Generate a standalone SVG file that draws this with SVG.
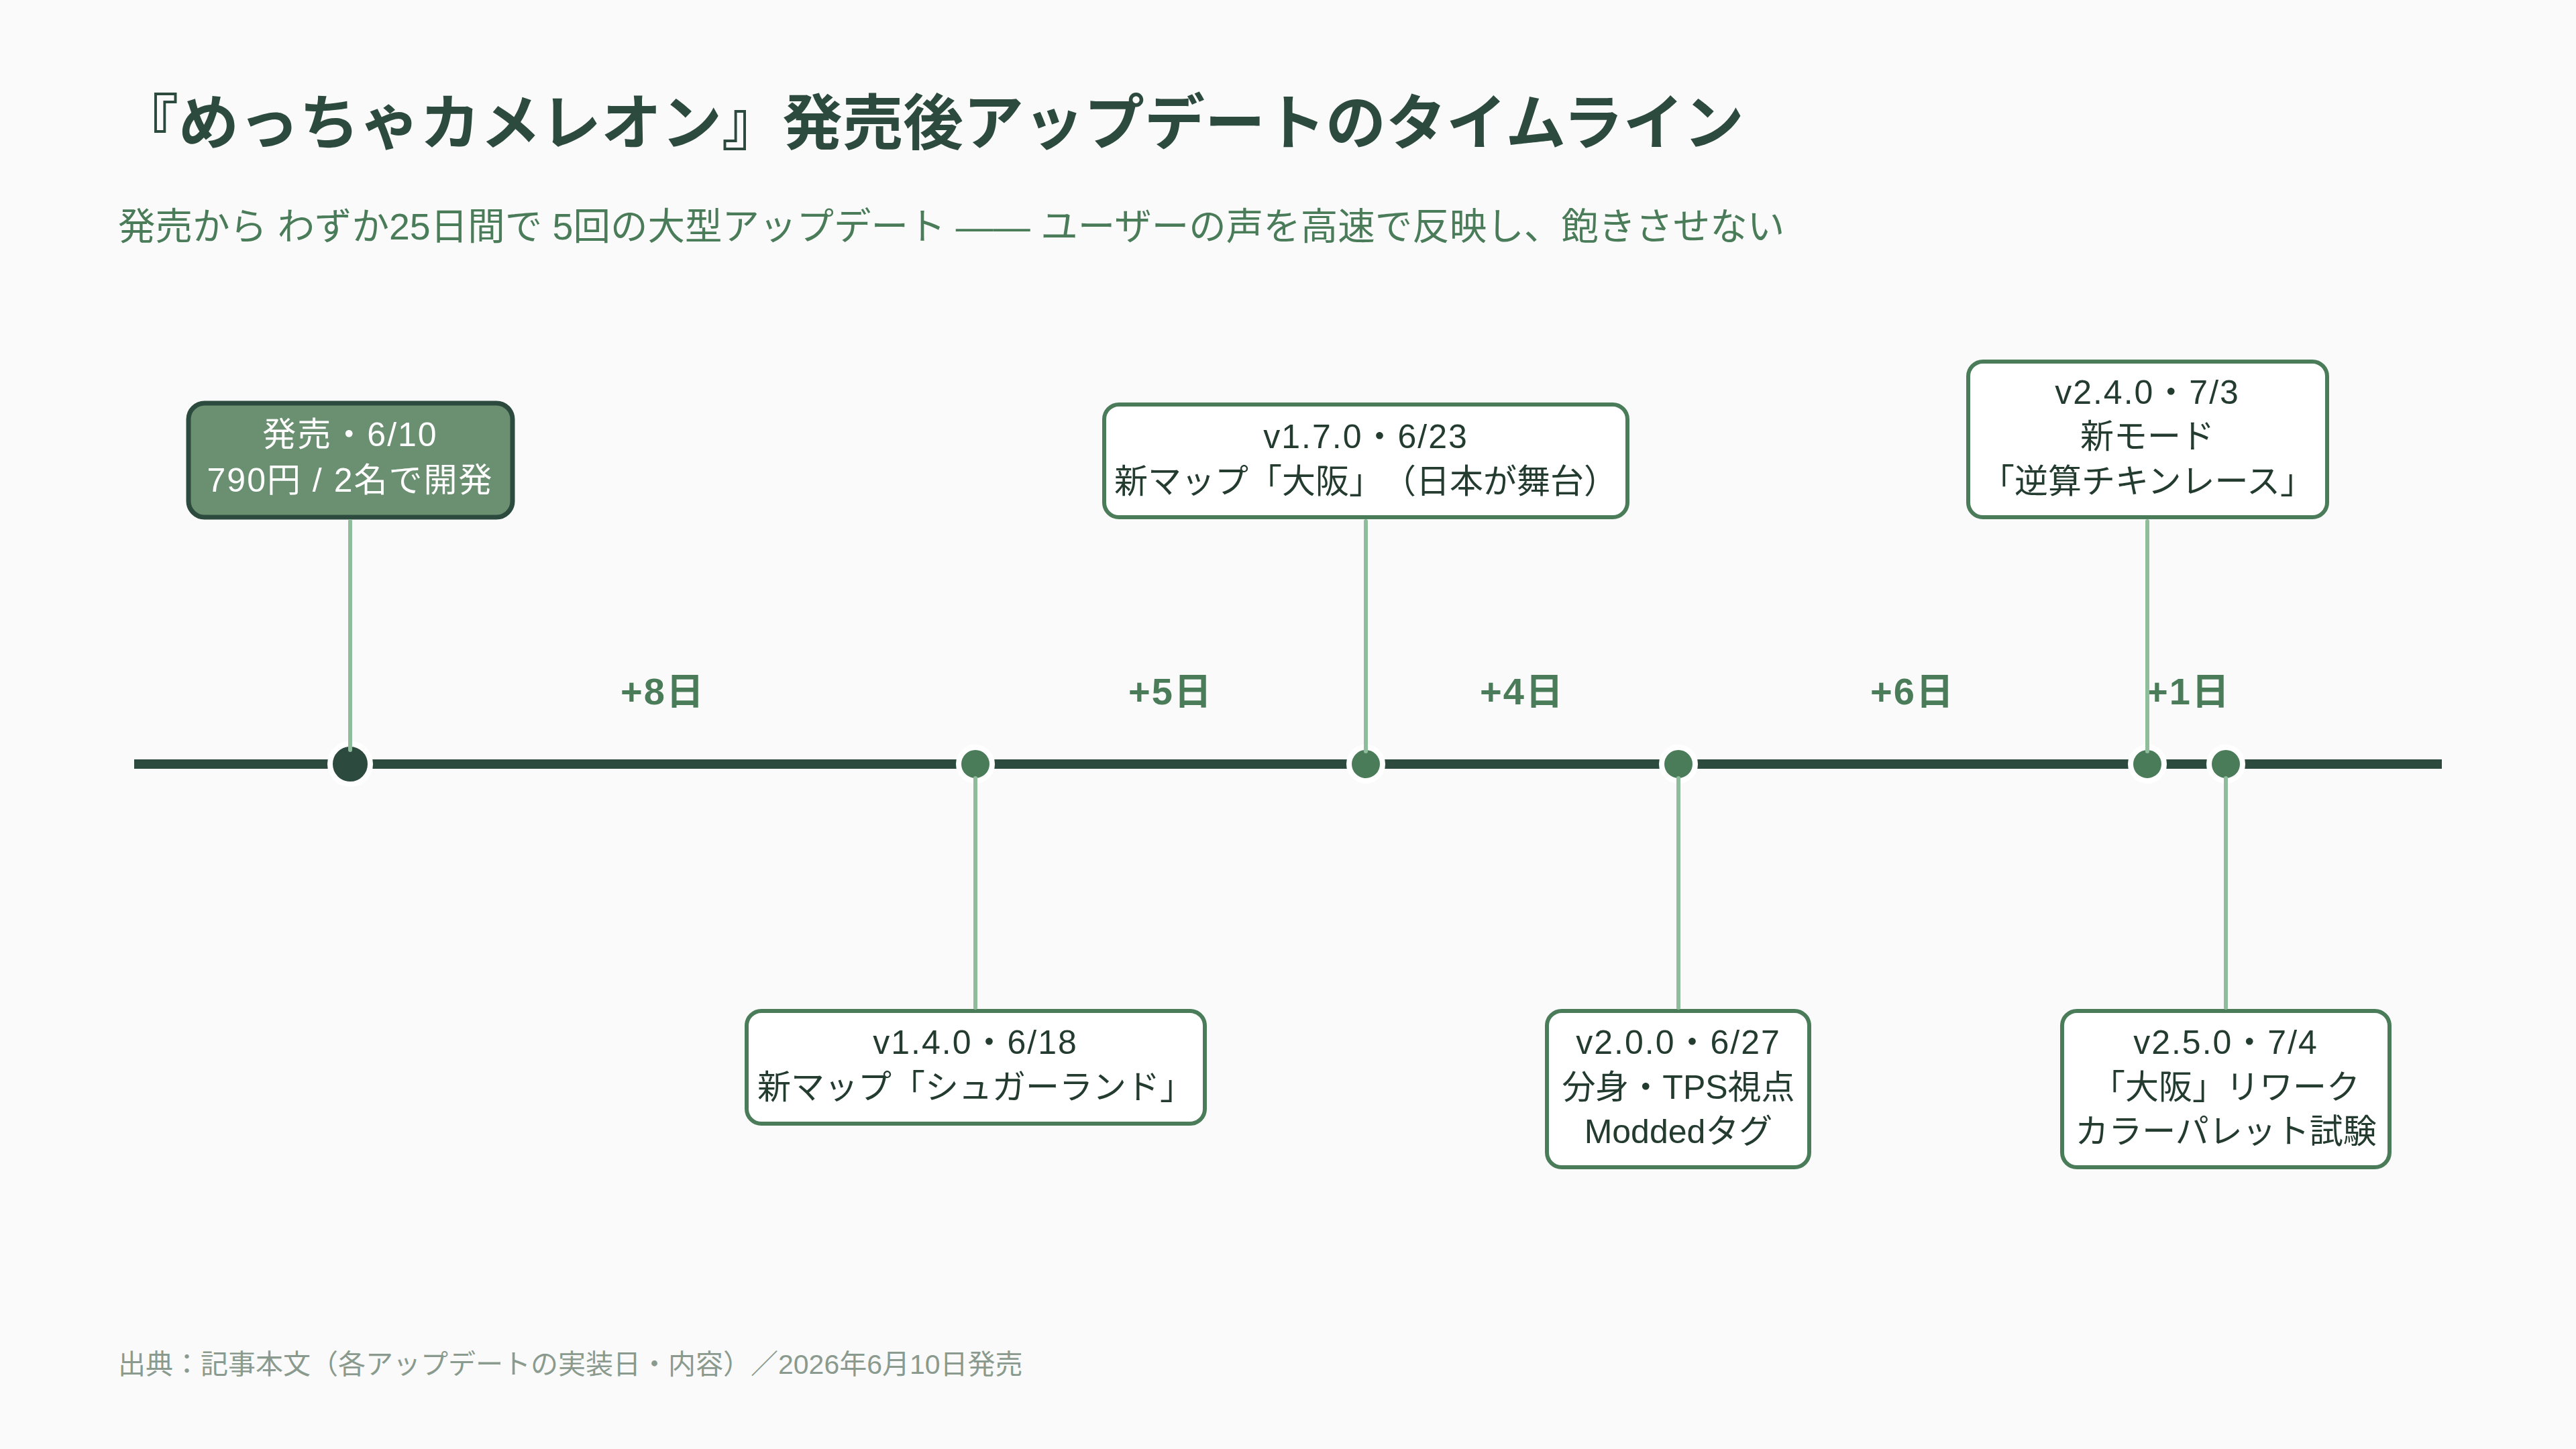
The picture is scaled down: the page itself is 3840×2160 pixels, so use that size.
<svg xmlns="http://www.w3.org/2000/svg" width="3840" height="2160" viewBox="0 0 3840 2160">
<style>
text{font-family:"Liberation Sans","Noto Sans CJK JP",sans-serif;text-spacing-trim:space-all}
.title{font-family:"Noto Sans CJK JP",sans-serif;font-size:90px;font-weight:700;fill:#2d4a3e}
.sub{font-size:55.5px;fill:#4a7c59}
.foot{font-size:41px;fill:#8a9a8e}
.gap{font-size:56px;font-weight:700;fill:#4a7c59;text-anchor:middle;letter-spacing:2px}
.box{fill:#ffffff;stroke:#4a7c59;stroke-width:6}
.launchbox{fill:#6b8f71;stroke:#2d4a3e;stroke-width:7}
.lbl{font-size:50px;fill:#243b2f;text-anchor:middle}
.lbl-w{font-size:50px;fill:#ffffff;text-anchor:middle}
.ver{letter-spacing:2px}
.dot{fill:#4a7c59;stroke:#ffffff;stroke-width:8}
.dot0{fill:#2d4a3e;stroke:#ffffff;stroke-width:8}
.conn{stroke:#8fbc9a;stroke-width:6;stroke-linecap:round;fill:none}
.axis{stroke:#2d4a3e;stroke-width:14}
</style>
<rect x="0" y="0" width="3840" height="2160" fill="#fafafa"/>
<text class="title" x="176" y="215">『めっちゃカメレオン』発売後アップデートのタイムライン</text>
<text class="sub" x="176" y="357">発売から わずか25日間で 5回の大型アップデート —— ユーザーの声を高速で反映し、飽きさせない</text>

<g id="axis">
<line class="axis" x1="200" y1="1139" x2="3640" y2="1139"/>
</g>

<g id="gaps">
<text class="gap" x="988" y="1050">+8日</text>
<text class="gap" x="1745" y="1050">+5日</text>
<text class="gap" x="2269" y="1050">+4日</text>
<text class="gap" x="2851" y="1050">+6日</text>
<text class="gap" x="3262" y="1050">+1日</text>
</g>

<g id="launch">
<rect class="launchbox" x="281" y="601" width="483" height="170" rx="24"/>
<text class="lbl-w" x="522"><tspan class="ver" x="522" y="665">発売・6/10</tspan><tspan class="ver" x="522" y="733">790円 / 2名で開発</tspan></text>
<circle class="dot0" cx="522" cy="1139" r="30"/>
</g>

<g id="v140">
<rect class="box" x="1113" y="1507" width="683" height="168" rx="22"/>
<text class="lbl" x="1454"><tspan class="ver" x="1454" y="1571">v1.4.0・6/18</tspan><tspan x="1454" y="1638">新マップ「シュガーランド」</tspan></text>
<circle class="dot" cx="1454" cy="1139" r="25"/>
</g>

<g id="v170">
<rect class="box" x="1646" y="603" width="780" height="168" rx="22"/>
<text class="lbl" x="2036"><tspan class="ver" x="2036" y="668">v1.7.0・6/23</tspan><tspan x="2036" y="735">新マップ「大阪」（日本が舞台）</tspan></text>
<circle class="dot" cx="2036" cy="1139" r="25"/>
</g>

<g id="v200">
<rect class="box" x="2306" y="1507" width="391" height="233" rx="22"/>
<text class="lbl" x="2502"><tspan class="ver" x="2502" y="1571">v2.0.0・6/27</tspan><tspan x="2502" y="1638">分身・TPS視点</tspan><tspan x="2502" y="1704">Moddedタグ</tspan></text>
<circle class="dot" cx="2502" cy="1139" r="25"/>
</g>

<g id="v240">
<rect class="box" x="2934" y="539" width="535" height="232" rx="22"/>
<text class="lbl" x="3201"><tspan class="ver" x="3201" y="602">v2.4.0・7/3</tspan><tspan x="3201" y="668">新モード</tspan><tspan x="3201" y="735">「逆算チキンレース」</tspan></text>
<circle class="dot" cx="3201" cy="1139" r="25"/>
</g>

<g id="v250">
<rect class="box" x="3074" y="1507" width="488" height="233" rx="22"/>
<text class="lbl" x="3318"><tspan class="ver" x="3318" y="1571">v2.5.0・7/4</tspan><tspan x="3318" y="1638">「大阪」リワーク</tspan><tspan x="3318" y="1704">カラーパレット試験</tspan></text>
<circle class="dot" cx="3318" cy="1139" r="25"/>
</g>

<g id="connectors">
<line class="conn" x1="522" y1="777" x2="522" y2="1118"/>
<line class="conn" x1="1454" y1="1160" x2="1454" y2="1502"/>
<line class="conn" x1="2036" y1="777" x2="2036" y2="1120"/>
<line class="conn" x1="2502" y1="1160" x2="2502" y2="1502"/>
<line class="conn" x1="3201" y1="777" x2="3201" y2="1120"/>
<line class="conn" x1="3318" y1="1160" x2="3318" y2="1502"/>
</g>

<text class="foot" x="176" y="2048">出典：記事本文（各アップデートの実装日・内容）／2026年6月10日発売</text>
</svg>
